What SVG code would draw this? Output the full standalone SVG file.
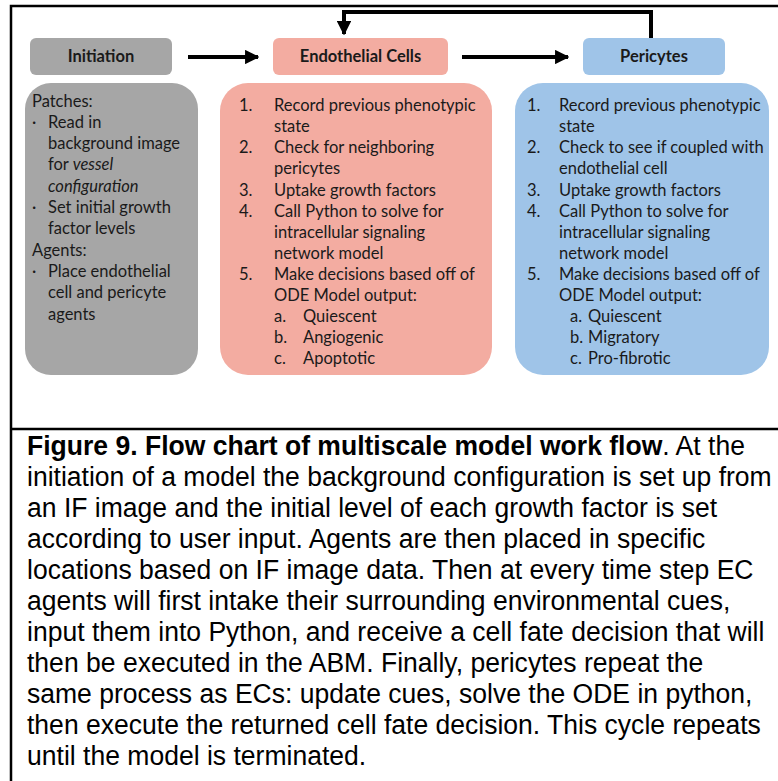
<svg xmlns="http://www.w3.org/2000/svg" width="778" height="781" viewBox="0 0 778 781">
<style>
.frame{stroke:#000;stroke-width:2.5;fill:none}
.gray{fill:#a6a6a6}
.pink{fill:#f3aca1}
.blue{fill:#9fc4e8}
.hd{font-family:Lato,"Open Sans",sans-serif;font-weight:bold;font-size:16.5px;fill:#1a1a1a;text-anchor:middle}
.bt{font-family:Lato,"Open Sans",sans-serif;font-size:16.5px;fill:#1a1a1a}
.cap{font-family:"Liberation Sans",Arial,sans-serif;font-size:28px;fill:#000}
.conn{stroke:#000;stroke-width:4;fill:none}
</style>
<defs>
<marker id="ah" viewBox="0 0 10 10" refX="9" refY="5" markerWidth="3.6" markerHeight="3.6" orient="auto" markerUnits="strokeWidth">
<path d="M0,0 L10,5 L0,10 z" fill="#000"/>
</marker>
</defs>
<rect width="778" height="781" fill="#fff"/>
<g id="frame">
<path class="frame" d="M11,781 V6 H778"/>
<path class="frame" d="M11,429 H778"/>
</g>
<g id="connectors">
<path class="conn" d="M188,57 H258" marker-end="url(#ah)"/>
<path class="conn" d="M462,57 H568" marker-end="url(#ah)"/>
<path class="conn" d="M651,38 V12 H344 V34" marker-end="url(#ah)"/>
</g>
<g id="initiation-header">
<rect class="gray" x="30" y="38" width="142" height="37" rx="6"/>
<text class="hd" x="101" y="62">Initiation</text>
</g>
<g id="endothelial-header">
<rect class="pink" x="273" y="38" width="175" height="37" rx="6"/>
<text class="hd" x="360.5" y="62">Endothelial Cells</text>
</g>
<g id="pericytes-header">
<rect class="blue" x="583" y="38" width="142" height="37" rx="6"/>
<text class="hd" x="654" y="62">Pericytes</text>
</g>
<g id="initiation-body">
<rect class="gray" x="25" y="83" width="173" height="292" rx="26"/>
<text class="bt">
<tspan x="32" y="107">Patches:</tspan>
<tspan x="32" y="128">·</tspan><tspan x="48" y="128">Read in</tspan>
<tspan x="48" y="149">background image</tspan>
<tspan x="48" y="170">for <tspan font-style="italic">vessel</tspan></tspan>
<tspan x="48" y="192" font-style="italic">configuration</tspan>
<tspan x="32" y="213">·</tspan><tspan x="48" y="213">Set initial growth</tspan>
<tspan x="48" y="234">factor levels</tspan>
<tspan x="32" y="256">Agents:</tspan>
<tspan x="32" y="277">·</tspan><tspan x="48" y="277">Place endothelial</tspan>
<tspan x="48" y="298">cell and pericyte</tspan>
<tspan x="48" y="320">agents</tspan>
</text>
</g>
<g id="endothelial-body">
<rect class="pink" x="220" y="83" width="272" height="292" rx="28"/>
<text class="bt">
<tspan x="239" y="111">1.</tspan><tspan x="274" y="111">Record previous phenotypic</tspan>
<tspan x="274" y="132">state</tspan>
<tspan x="239" y="153">2.</tspan><tspan x="274" y="153">Check for neighboring</tspan>
<tspan x="274" y="174">pericytes</tspan>
<tspan x="239" y="196">3.</tspan><tspan x="274" y="196">Uptake growth factors</tspan>
<tspan x="239" y="217">4.</tspan><tspan x="274" y="217">Call Python to solve for</tspan>
<tspan x="274" y="238">intracellular signaling</tspan>
<tspan x="274" y="259">network model</tspan>
<tspan x="239" y="280">5.</tspan><tspan x="274" y="280">Make decisions based off of</tspan>
<tspan x="274" y="301">ODE Model output:</tspan>
<tspan x="274" y="322">a.</tspan><tspan x="303" y="322">Quiescent</tspan>
<tspan x="274" y="343">b.</tspan><tspan x="303" y="343">Angiogenic</tspan>
<tspan x="274" y="364">c.</tspan><tspan x="303" y="364">Apoptotic</tspan>
</text>
</g>
<g id="pericytes-body">
<rect class="blue" x="515" y="83" width="254" height="292" rx="28"/>
<text class="bt">
<tspan x="527" y="111">1.</tspan><tspan x="559" y="111">Record previous phenotypic</tspan>
<tspan x="559" y="132">state</tspan>
<tspan x="527" y="153">2.</tspan><tspan x="559" y="153">Check to see if coupled with</tspan>
<tspan x="559" y="174">endothelial cell</tspan>
<tspan x="527" y="196">3.</tspan><tspan x="559" y="196">Uptake growth factors</tspan>
<tspan x="527" y="217">4.</tspan><tspan x="559" y="217">Call Python to solve for</tspan>
<tspan x="559" y="238">intracellular signaling</tspan>
<tspan x="559" y="259">network model</tspan>
<tspan x="527" y="280">5.</tspan><tspan x="559" y="280">Make decisions based off of</tspan>
<tspan x="559" y="301">ODE Model output:</tspan>
<tspan x="570" y="322">a.</tspan><tspan x="588" y="322">Quiescent</tspan>
<tspan x="570" y="343">b.</tspan><tspan x="588" y="343">Migratory</tspan>
<tspan x="570" y="364">c.</tspan><tspan x="588" y="364">Pro-fibrotic</tspan>
</text>
</g>
<g id="caption" transform="translate(27,0) scale(0.948,1)">
<text class="cap">
<tspan x="0" y="455"><tspan font-weight="bold">Figure 9. Flow chart of multiscale model work flow</tspan>. At the</tspan>
<tspan x="0" y="486">initiation of a model the background configuration is set up from</tspan>
<tspan x="0" y="517">an IF image and the initial level of each growth factor is set</tspan>
<tspan x="0" y="548">according to user input. Agents are then placed in specific</tspan>
<tspan x="0" y="579">locations based on IF image data. Then at every time step EC</tspan>
<tspan x="0" y="610">agents will first intake their surrounding environmental cues,</tspan>
<tspan x="0" y="641">input them into Python, and receive a cell fate decision that will</tspan>
<tspan x="0" y="672">then be executed in the ABM. Finally, pericytes repeat the</tspan>
<tspan x="0" y="703">same process as ECs: update cues, solve the ODE in python,</tspan>
<tspan x="0" y="734">then execute the returned cell fate decision. This cycle repeats</tspan>
<tspan x="0" y="765">until the model is terminated.</tspan>
</text>
</g>
</svg>
